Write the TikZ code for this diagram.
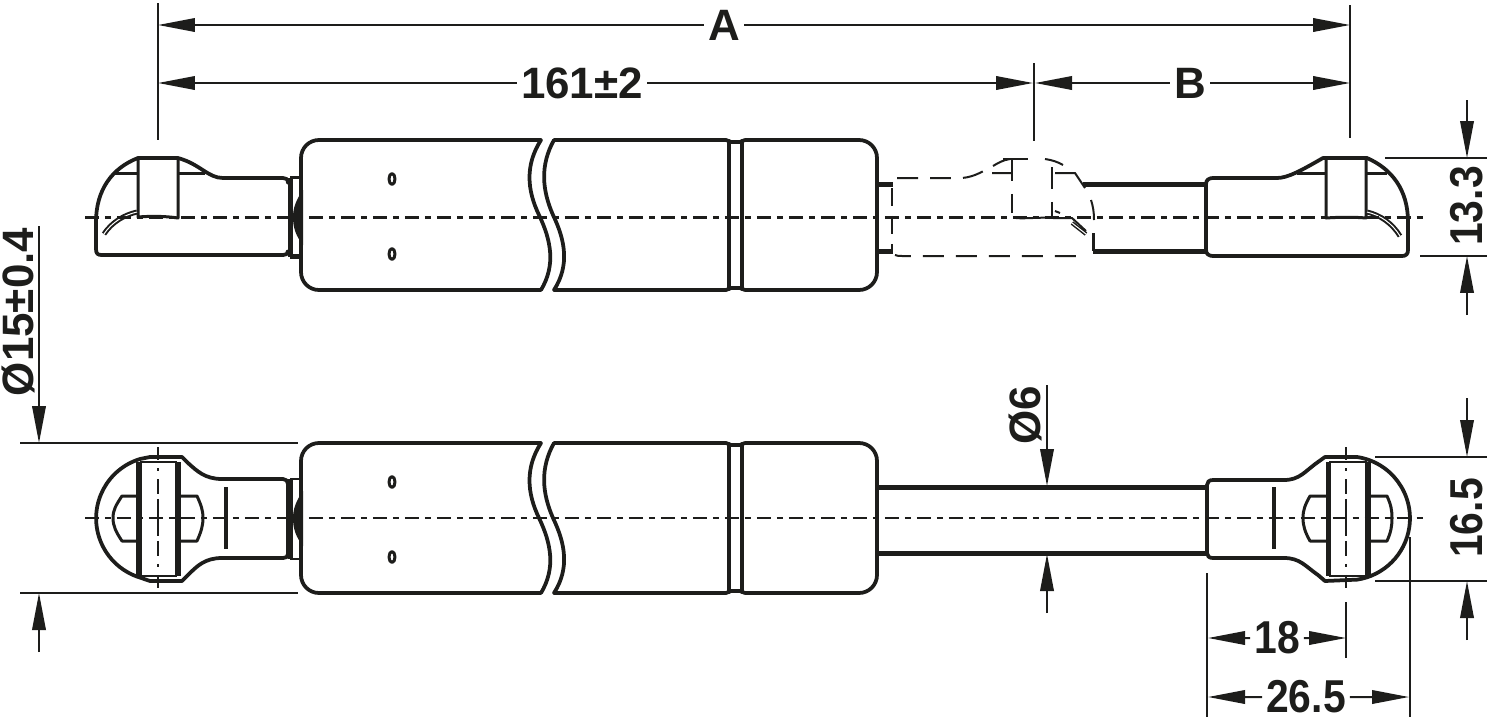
\documentclass[tikz,border=0pt]{standalone}
\usepackage{fontspec}
\setmainfont{Liberation Sans}
\usetikzlibrary{arrows.meta}
\definecolor{ink}{HTML}{1D1D1B}
\tikzset{
  outline/.style={ink,line width=0.075cm,line join=round,line cap=round},
  heavy/.style={ink,line width=0.1cm},
  fine/.style={ink,line width=0.06cm,line join=round},
  thinline/.style={ink,line width=0.04cm},
  axisline/.style={ink,line width=0.042cm,dash pattern=on 0.28cm off 0.12cm on 0.12cm off 0.12cm},
  pinaxis/.style={ink,line width=0.042cm,dash pattern=on 0.26cm off 0.16cm on 0.06cm off 0.16cm on 0.30cm off 0.10cm on 0.74cm off 0.10cm on 0.30cm off 0.16cm on 0.06cm off 0.16cm on 0.26cm off 2cm},
  hidden/.style={ink,line width=0.04cm,dash pattern=on 0.42cm off 0.24cm},
  tabline/.style={ink,line width=0.04cm,double=white,double distance=0.02cm,line cap=butt},
  dimline/.style={ink,line width=0.04cm,-{Triangle[length=0.74cm,width=0.27cm]}},
  dimtext/.style={text=ink,inner sep=0.08cm,font=\fontsize{25pt}{27pt}\selectfont\bfseries},
  narrowtext/.style={dimtext,xscale=0.93,yscale=1.05}
}
\begin{document}
\begin{tikzpicture}[x=0.02cm,y=-0.02cm]
\useasboundingbox (0,0) rectangle (1488,717);
% cylinder, the same in both views
\foreach \vw in {0,303} {
\begin{scope}[shift={(0,\vw)}]
  \draw[outline,rounded corners=0.36cm] (541,140) -- (301,140) -- (301,290) -- (541,290);
  \draw[outline] (541,140) .. controls (525,165) and (527,190) .. (539,215)
    .. controls (551,240) and (556,265) .. (541,290);
  \draw[outline] (554,140) .. controls (540,165) and (542,190) .. (553,215)
    .. controls (565,240) and (570,265) .. (554,290);
  \draw[outline] (554,140) -- (726,140) .. controls (728,140) and (729,142) .. (731,142)
    -- (740,142) .. controls (742,142) and (743,140) .. (745,140);
  \draw[outline] (554,290) -- (726,290) .. controls (728,290) and (729,288) .. (731,288)
    -- (740,288) .. controls (742,288) and (743,290) .. (745,290);
  \draw[outline,rounded corners=0.36cm] (745,140) -- (877,140) -- (877,290) -- (745,290);
  \draw[outline] (729,141) -- (729,289);
  \draw[outline] (742,141) -- (742,289);
  \draw[fine] (392,179) ellipse (3 and 5.5);
  \draw[fine] (392,254) ellipse (3 and 5.5);
\end{scope}
}
% left eye, upper view
\draw[outline] (288,183) .. controls (288,179) and (286,178) .. (283,178) -- (223,178)
  .. controls (208,178) and (200,164) .. (178,158) -- (138,158)
  .. controls (112,168) and (96,190) .. (96,222) -- (96,249)
  .. controls (96,254) and (98,255) .. (102,255) -- (283,255)
  .. controls (286,255) and (288,254) .. (288,251);
\draw[fine] (138,158) -- (138,217) .. controls (150,216) and (165,216) .. (178,218) -- (178,158);
\draw[fine] (115,173) -- (138,173) (178,173) -- (205,173);
\draw[tabline] (137,212) .. controls (124,215) and (112,222) .. (104,234);
\draw[heavy] (290,178) -- (290,257);
\draw[fine] (290,177.5) -- (301,177.5);
\draw[heavy] (290,256) -- (301,256);
\fill[ink] (303,190) .. controls (296,200) and (293,208) .. (293,217)
  .. controls (293,228) and (296,236) .. (303,245) -- cycle;
% rod in its moved position, upper view
\draw[heavy] (877,184) -- (893,184) (877,251) -- (893,251);
\draw[hidden,dash pattern=on 0.36cm off 0.2cm] (892,188) -- (892,250);
\draw[hidden] (897,178) -- (948,178) -- (962,178) .. controls (975,177) and (985,170) .. (993,166);
\draw[hidden,dash pattern=on 0.5cm off 0.5cm] (1003,159) -- (1033,159);
\draw[thinline] (1045,159) .. controls (1052,160) and (1058,162) .. (1063,165);
\draw[thinline] (993,166) .. controls (998,163) and (1003,160) .. (1010,159);
\draw[thinline] (992,173) -- (1012,173) (1055,173) -- (1075,173) -- (1085,188);
\draw[hidden,dash pattern=on 0.44cm off 0.26cm] (1012,159) -- (1012,213);
\draw[hidden,dash pattern=on 0.44cm off 0.26cm] (1052,167) -- (1052,217);
\draw[thinline] (1016,218) .. controls (1025,219) and (1040,217) .. (1050,218);
\draw[thinline] (1053,218) -- (1072,218) -- (1086,231);
\draw[thinline] (1055,211) -- (1060,213);
\draw[tabline,line width=0.03cm] (1072,223) -- (1086,234);
\draw[thinline] (1091,200) .. controls (1093,206) and (1094,212) .. (1094,220);
\draw[hidden,dash pattern=on 0.42cm off 0.24cm,dash phase=0.1cm] (895,255) .. controls (897,256) and (899,256) .. (902,256) -- (1082,256);
\draw[heavy] (1083,184) -- (1207,184);
\draw[heavy] (1093,251) -- (1207,251);
\draw[fine] (1093,233) -- (1093,251);
% right eye, upper view
\draw[outline] (1206,184) .. controls (1206,180) and (1209,178) .. (1213,178) -- (1277,178)
  .. controls (1288,178) and (1302,170) .. (1323,158) -- (1367,158)
  .. controls (1392,169) and (1408,190) .. (1408,222) -- (1408,250)
  .. controls (1408,254) and (1406,256) .. (1402,256) -- (1213,256)
  .. controls (1209,256) and (1206,254) .. (1206,250) -- cycle;
\draw[fine] (1326,158) -- (1326,218) .. controls (1340,217) and (1355,217) .. (1366,218) -- (1366,158);
\draw[fine] (1297,173) -- (1326,173) (1366,173) -- (1387,173);
\draw[tabline] (1367,212) .. controls (1380,215) and (1392,223) .. (1400,236);
% left eye, lower view
\draw[outline] (140,459) arc[start angle=107,end angle=253,radius=1.24cm]
  -- (150,581) -- (182,581) -- (188,575) .. controls (197,566) and (205,558) .. (222,558)
  -- (283,558) .. controls (286,558) and (288,557) .. (288,554) -- (288,484)
  .. controls (288,481) and (286,479) .. (283,479) -- (222,479)
  .. controls (205,479) and (197,471) .. (188,463) -- (182,457) -- (150,457) -- cycle;
\draw[heavy] (138.5,462) -- (138.5,576) (178,462) -- (178,576);
\draw[thinline] (141,462) rectangle (176,576);
\draw[fine] (138,496) -- (122,496) .. controls (116,505) and (113,510) .. (113,518)
  .. controls (113,526) and (116,532) .. (122,541) -- (138,541);
\draw[fine] (178,496) -- (197,496) .. controls (201,505) and (203,510) .. (203,518)
  .. controls (203,526) and (201,532) .. (197,541) -- (178,541);
\draw[heavy,line width=0.08cm] (226,487) -- (226,549);
\draw[heavy] (290,479) -- (290,559);
\draw[thinline,line width=0.05cm] (290,479) -- (301,479) (290,559) -- (301,559);
\fill[ink] (303,491) .. controls (296,501) and (293,509) .. (293,518)
  .. controls (293,529) and (296,537) .. (303,546) -- cycle;
% rod and right eye, lower view
\draw[heavy] (877,487) -- (1207,487) (877,553) -- (1207,553);
\draw[outline] (1357,457) arc[start angle=81.6,end angle=-81.6,radius=1.24cm]
  -- (1325,581) -- (1318,575) .. controls (1305,566) and (1300,558) .. (1284,558)
  -- (1213,558) .. controls (1209,558) and (1207,556) .. (1207,553) -- (1207,485)
  .. controls (1207,482) and (1209,480) .. (1213,480) -- (1284,480)
  .. controls (1300,480) and (1305,471) .. (1318,462) -- (1325,457) -- cycle;
\draw[heavy] (1328,462) -- (1328,576) (1368,462) -- (1368,576);
\draw[thinline] (1330,462) rectangle (1366,576);
\draw[fine] (1328,496) -- (1310,496) .. controls (1305,505) and (1303,510) .. (1303,518)
  .. controls (1303,526) and (1305,532) .. (1310,541) -- (1328,541);
\draw[fine] (1368,496) -- (1387,496) .. controls (1391,505) and (1392,510) .. (1392,518)
  .. controls (1392,526) and (1391,532) .. (1387,541) -- (1368,541);
\draw[heavy,line width=0.08cm] (1274,487) -- (1274,549);
% centre lines
\draw[axisline] (85,217.5) -- (1427,217.5);
\draw[axisline] (85,518) -- (1427,518);
\draw[pinaxis] (158,447) -- (158,590);
\draw[pinaxis] (1346,447) -- (1346,590);
% extension lines
\draw[thinline] (158,3) -- (158,140);
\draw[thinline] (1350,5) -- (1350,138);
\draw[thinline] (1034,63) -- (1034,141);
\draw[thinline] (1385,158) -- (1487,158);
\draw[thinline] (1420,256) -- (1487,256);
\draw[thinline] (1375,457) -- (1487,457);
\draw[thinline] (1375,581) -- (1487,581);
\draw[thinline] (20,443) -- (298,443);
\draw[thinline] (20,593) -- (298,593);
\draw[thinline] (1207,573) -- (1207,717);
\draw[thinline] (1410,537) -- (1410,717);
\draw[thinline] (1346,602) -- (1346,658);
% dimensions
\node[dimtext] (dimA) at (724,25) {A};
\draw[dimline] (dimA) -- (158,25);
\draw[dimline] (dimA) -- (1350,25);
\node[dimtext] (dimlen) at (582,83) {161±2};
\draw[dimline] (dimlen) -- (158,83);
\draw[dimline] (dimlen) -- (1033,83);
\node[dimtext] (dimB) at (1190,83) {B};
\draw[dimline] (dimB) -- (1035,83);
\draw[dimline] (dimB) -- (1350,83);
\node[rotate=90,narrowtext] (dimeye) at (1467,206) {13.3};
\draw[dimline] (1467,100) -- (1467,158);
\draw[dimline] (1467,315) -- (1467,256);
\node[rotate=90,narrowtext] (dimhead) at (1467,518) {16.5};
\draw[dimline] (1467,398) -- (1467,457);
\draw[dimline] (1467,640) -- (1467,581);
\node[dimtext,rotate=90] (dimbody) at (18,312) {Ø15±0.4};
\draw[dimline] (39,226) -- (39,443);
\draw[dimline] (39,652) -- (39,593);
\node[dimtext,rotate=90] (dimrod) at (1025,415) {Ø6};
\draw[dimline] (1047,385) -- (1047,486);
\draw[dimline] (1047,613) -- (1047,554);
\node[narrowtext] (dimpin) at (1277,638) {18};
\draw[dimline] (dimpin) -- (1208,638);
\draw[dimline] (dimpin) -- (1346,638);
\node[narrowtext] (dimtotal) at (1306,697) {26.5};
\draw[dimline] (dimtotal) -- (1208,697);
\draw[dimline] (dimtotal) -- (1409,697);
\end{tikzpicture}
\end{document}
